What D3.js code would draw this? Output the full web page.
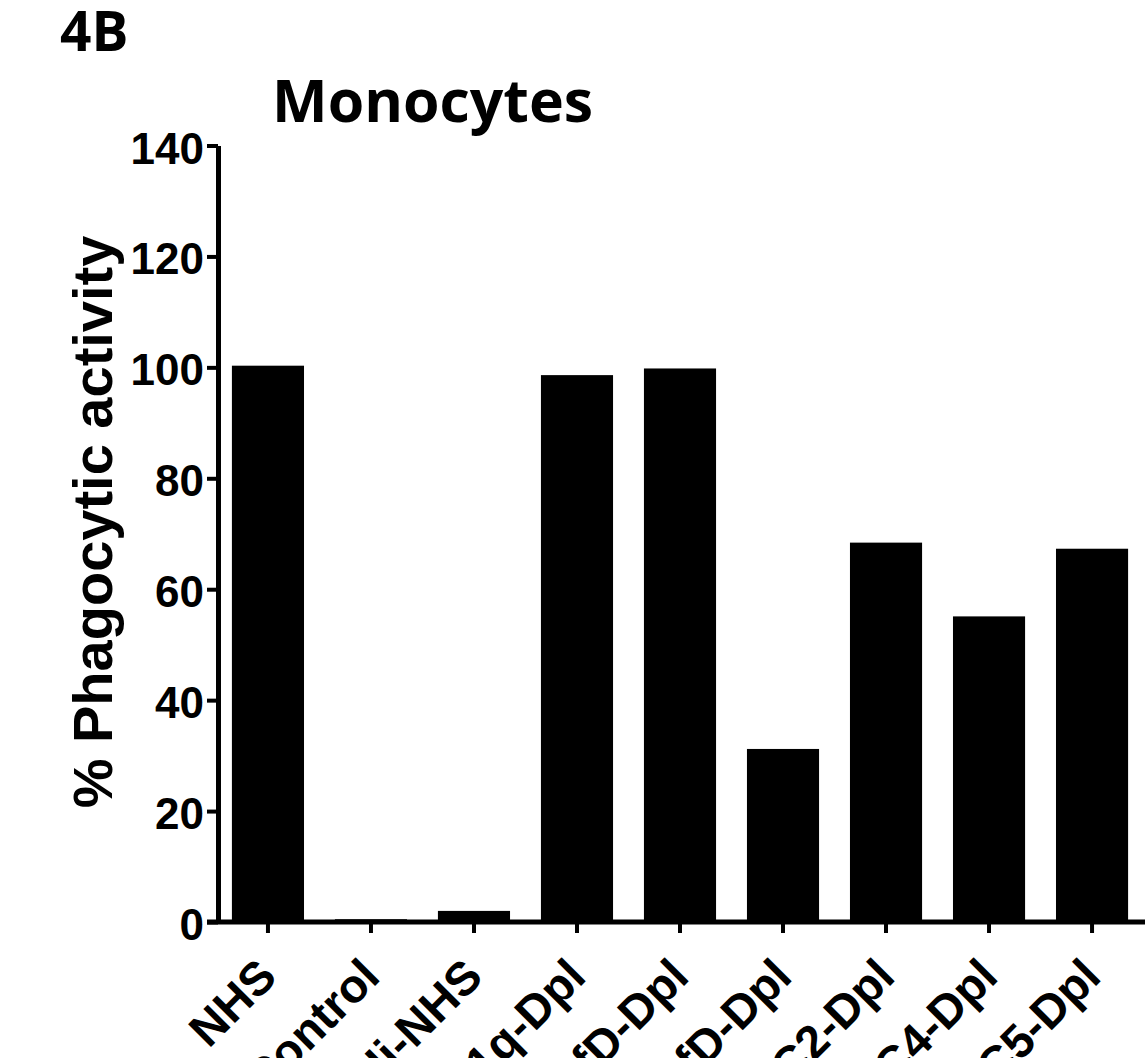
<!DOCTYPE html>
<html>
<head>
<meta charset="utf-8">
<script src="https://cdn.jsdelivr.net/npm/d3@7"></script>
<style>
  html, body { margin: 0; padding: 0; background: #fff; overflow: hidden; }
  svg { display: block; }
</style>
</head>
<body>
<svg id="chart" width="1145" height="1058"></svg>
<script>
// ---- data ----
const categories = ["NHS", "Control", "Hi-NHS", "C1q-Dpl", "fD-Dpl", "fD-Dpl", "C2-Dpl", "C4-Dpl", "C5-Dpl"];
const values = [100.3, 0.5, 2.0, 98.6, 99.8, 31.2, 68.4, 55.1, 67.3];
const yTickValues = [0, 20, 40, 60, 80, 100, 120, 140];
const panelLabel = "4B";
const chartTitle = "Monocytes";
const yAxisLabel = "% Phagocytic activity";

// ---- layout ----
const W = 1145, H = 1058;
const svg = d3.select("#chart");
const axisFont = "'Liberation Sans', Arial, sans-serif";
const titleFont = "'Open Sans', 'Noto Sans', sans-serif";

const idx = categories.map((d, i) => i);
const x = d3.scaleBand()
  .domain(idx)
  .range([218, 1142])
  .paddingInner(0.3)
  .paddingOuter(0.135);

const y = d3.scaleLinear()
  .domain([0, 140])
  .range([922, 145.5]);

// bars
svg.append("g")
  .selectAll("rect")
  .data(values)
  .join("rect")
  .attr("x", (d, i) => x(i))
  .attr("width", x.bandwidth())
  .attr("y", d => y(d))
  .attr("height", d => y(0) - y(d))
  .attr("fill", "#000");

// y axis
const yAxis = svg.append("g")
  .attr("transform", `translate(${x.range()[0]},0)`)
  .call(d3.axisLeft(y).tickValues(yTickValues).tickSize(11).tickSizeOuter(0).tickPadding(3));
yAxis.select(".domain").attr("stroke", "#000").attr("stroke-width", 5);
yAxis.selectAll(".tick line").attr("stroke", "#000").attr("stroke-width", 4);
yAxis.selectAll(".tick text")
  .attr("fill", "#000")
  .attr("x", -14)
  .attr("dy", null)
  .attr("y", 17.5)
  .style("font-family", axisFont)
  .style("font-weight", "bold")
  .style("font-size", "44px");

// x axis
const xAxis = svg.append("g")
  .attr("transform", `translate(0,${y(0)})`)
  .call(d3.axisBottom(x).tickSize(11).tickSizeOuter(0).tickFormat(i => categories[i]));
xAxis.select(".domain").remove();
xAxis.insert("line", ":first-child")
  .attr("x1", x.range()[0] - 11)
  .attr("x2", W)
  .attr("y1", 0).attr("y2", 0)
  .attr("stroke", "#000").attr("stroke-width", 5);
xAxis.selectAll(".tick line").attr("stroke", "#000").attr("stroke-width", 4);
xAxis.selectAll(".tick text")
  .attr("fill", "#000")
  .attr("y", null).attr("dy", null)
  .attr("text-anchor", "end")
  .attr("transform", "translate(11,57) rotate(-45)")
  .style("font-family", axisFont)
  .style("font-weight", "bold")
  .style("font-size", "47px");

// y axis label
svg.append("text")
  .attr("transform", "translate(112,522) rotate(-90)")
  .attr("text-anchor", "middle")
  .style("font-family", axisFont)
  .style("font-weight", "bold")
  .style("font-size", "56px")
  .attr("fill", "#000")
  .text(yAxisLabel);

// title
svg.append("text")
  .attr("x", 272).attr("y", 122)
  .style("font-family", titleFont)
  .style("font-weight", "700")
  .style("font-size", "59px")
  .attr("fill", "#000")
  .text(chartTitle);

// panel label
svg.append("text")
  .attr("x", 60).attr("y", 51)
  .style("font-family", titleFont)
  .style("font-weight", "700")
  .style("font-size", "55px")
  .attr("fill", "#000")
  .text(panelLabel);
</script>
</body>
</html>
